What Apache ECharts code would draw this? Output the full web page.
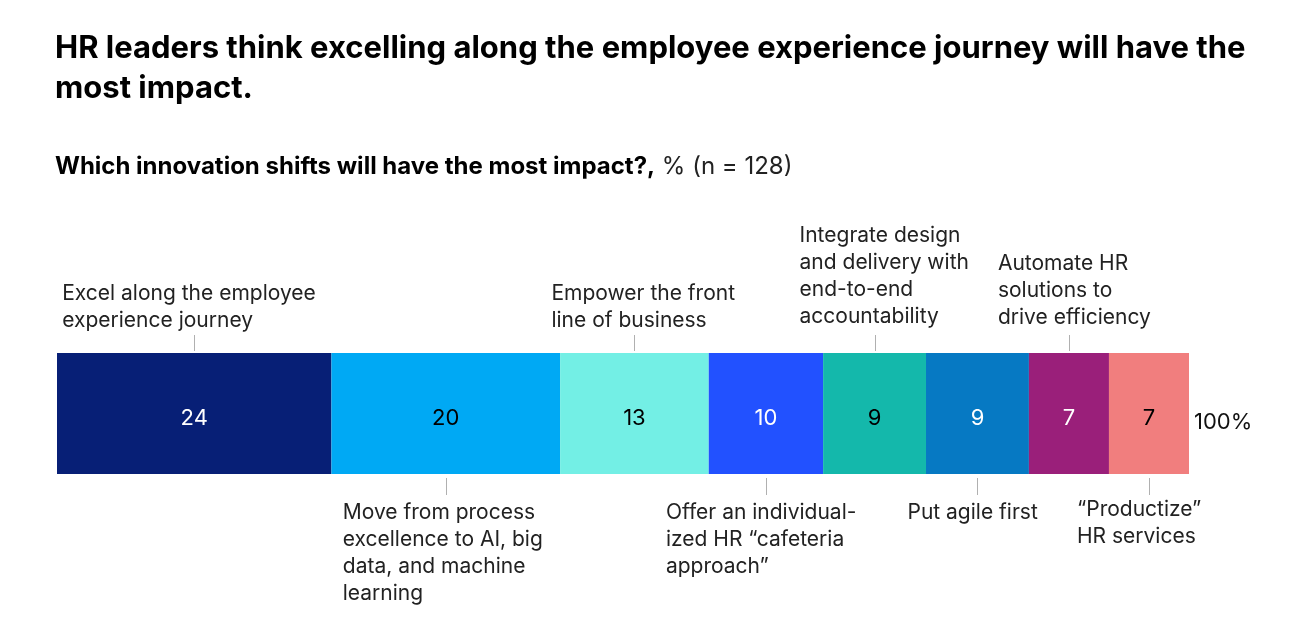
<!DOCTYPE html>
<html>
<head>
<meta charset="utf-8">
<script src="https://cdn.jsdelivr.net/npm/echarts@6/dist/echarts.min.js"></script>
<style>
html,body{margin:0;padding:0;background:#fff;}
#chart{width:1297px;height:633px;}
</style>
</head>
<body>
<div id="chart"></div>
<script>
// ---- data ----
var titleText = 'HR leaders think excelling along the employee experience journey will have the\nmost impact.';
var subtitleBold = 'Which innovation shifts will have the most impact?,';
var subtitleRegular = '% (n = 128)';
var shifts = [
  'Excel along the employee\nexperience journey',
  'Move from process\nexcellence to AI, big\ndata, and machine\nlearning',
  'Empower the front\nline of business',
  'Offer an individual-\nized HR \u201ccafeteria\napproach\u201d',
  'Integrate design\nand delivery with\nend-to-end\naccountability',
  'Put agile first',
  'Automate HR\nsolutions to\ndrive efficiency',
  '\u201cProductize\u201d\nHR services'
];
var shares = [24, 20, 13, 10, 9, 9, 7, 7];
var totalLabel = '100%';

// ---- styles / layout ----
var colors = ['#071F76', '#00A9F4', '#73EFE5', '#2251FF', '#14B8AB', '#0679C3', '#9A1F7A', '#F17E7E'];
var valueTextColors = ['#fff', '#000', '#000', '#fff', '#000', '#fff', '#fff', '#000'];
// side: 1 = above, -1 = below ; dx = text left relative to leader ; dy = extra vertical shift
var annoLayout = [
  {side: 1, dx: -132, dy: 1},
  {side: -1, dx: -103, dy: 2},
  {side: 1, dx: -83, dy: 1},
  {side: -1, dx: -100, dy: 2},
  {side: 1, dx: -75, dy: -3},
  {side: -1, dx: -70, dy: 2},
  {side: 1, dx: -71, dy: -2},
  {side: -1, dx: -72, dy: -1}
];
var FONT = 'Inter, "Noto Sans", sans-serif';

var total = shares.reduce(function (a, b) { return a + b; }, 0);
var series = shares.map(function (v, i) {
  return {
    type: 'bar',
    name: shifts[i],
    stack: 'all',
    barWidth: '100%',
    data: [v],
    itemStyle: {color: colors[i]},
    label: {
      show: true,
      position: 'inside',
      offset: [0, 5],
      formatter: '{c}',
      color: valueTextColors[i],
      fontFamily: FONT,
      fontSize: 22
    },
    emphasis: {disabled: true},
    silent: true
  };
});

var annoData = [];
var cum = 0;
shares.forEach(function (v, i) {
  annoData.push([cum + v / 2, 0, i]);
  cum += v;
});
annoData.push([total, 0, -1]);

series.push({
  type: 'custom',
  clip: false,
  silent: true,
  encode: {x: 0, y: 1},
  data: annoData,
  renderItem: function (params, api) {
    var idx = api.value(2);
    var pt = api.coord([api.value(0), api.value(1)]);
    var bandH = api.size([0, 1])[1];
    var top = pt[1] - bandH / 2;
    var bottom = pt[1] + bandH / 2;
    if (idx < 0) {
      return {
        type: 'text',
        style: {
          x: pt[0] + 5, y: pt[1] + 9, text: totalLabel,
          font: '22px ' + FONT, fill: '#111',
          textAlign: 'left', textVerticalAlign: 'middle'
        }
      };
    }
    var L = annoLayout[idx];
    var x = Math.round(pt[0]) + 0.5;
    var children = [];
    if (L.side === 1) {
      children.push({type: 'line', shape: {x1: x, y1: top - 18, x2: x, y2: top - 2},
        style: {stroke: '#b0b0b0', lineWidth: 1}});
      children.push({type: 'text', style: {
        x: pt[0] + L.dx, y: top - 20 + L.dy, text: shifts[idx],
        font: '21px ' + FONT, fill: '#222', lineHeight: 27,
        textAlign: 'left', textVerticalAlign: 'bottom'}});
    } else {
      children.push({type: 'line', shape: {x1: x, y1: bottom + 4, x2: x, y2: bottom + 21},
        style: {stroke: '#b0b0b0', lineWidth: 1}});
      children.push({type: 'text', style: {
        x: pt[0] + L.dx, y: bottom + 23 + L.dy, text: shifts[idx],
        font: '21px ' + FONT, fill: '#222', lineHeight: 27,
        textAlign: 'left', textVerticalAlign: 'top'}});
    }
    return {type: 'group', children: children};
  }
});

var chart = echarts.init(document.getElementById('chart'), null, {renderer: 'canvas'});
chart.setOption({
  animation: false,
  backgroundColor: '#fff',
  title: [{
    text: titleText,
    left: 50, top: 24,
    textStyle: {fontFamily: FONT, fontSize: 31, fontWeight: 'bold', color: '#000', lineHeight: 40}
  }, {
    text: '{b|' + subtitleBold + '}{r| ' + subtitleRegular + '}',
    left: 50, top: 148,
    textStyle: {
      rich: {
        b: {fontFamily: FONT, fontSize: 24, fontWeight: 'bold', color: '#000', lineHeight: 28},
        r: {fontFamily: FONT, fontSize: 24, fontWeight: 'normal', color: '#222', lineHeight: 28}
      }
    }
  }],
  grid: {left: 57, right: 108, top: 353, height: 121, containLabel: false},
  xAxis: {type: 'value', min: 0, max: total, show: false},
  yAxis: {type: 'category', data: ['shares'], show: false},
  series: series
});
</script>
</body>
</html>
